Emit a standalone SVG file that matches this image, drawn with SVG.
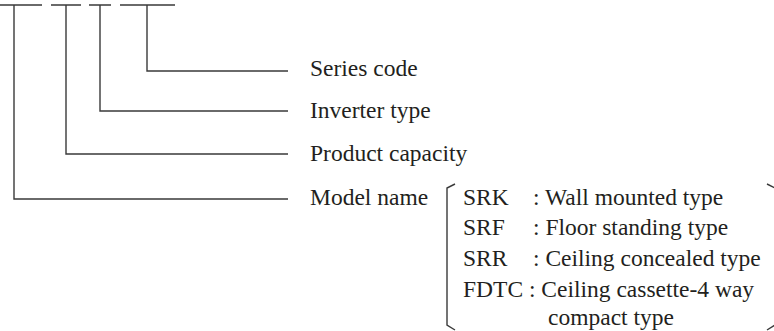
<svg xmlns="http://www.w3.org/2000/svg" width="774" height="331" viewBox="0 0 774 331">
<style>
.ln{fill:none;stroke:#3a3a3a;stroke-width:1.4}
text{font-family:"Liberation Serif","Times New Roman","DejaVu Serif",serif;font-size:23.5px;fill:#231f20}
</style>
<rect width="774" height="331" fill="#fff"/>
<g id="connectors">
<path class="ln" d="M0,5H42M51,5H81M89,5H111M120,5H175"/>
<path class="ln" d="M147,5V71H288"/>
<path class="ln" d="M100,5V111H288"/>
<path class="ln" d="M66,5V154H288"/>
<path class="ln" d="M14,5V199H288"/>
</g>
<g id="series-code"><text x="310" y="76">Series code</text></g>
<g id="inverter-type"><text x="310" y="118">Inverter type</text></g>
<g id="product-capacity"><text x="310" y="161">Product capacity</text></g>
<g id="model-name">
<text x="310" y="205">Model name</text>
<path class="ln" d="M455,184L447,188V325L455,330"/>
<path class="ln" d="M767,184L775,188V325L767,330"/>
<text x="463" y="205">SRK</text><text x="533" y="205">: Wall mounted type</text>
<text x="463" y="235">SRF</text><text x="533" y="235">: Floor standing type</text>
<text x="463" y="266">SRR</text><text x="533" y="266">: Ceiling concealed type</text>
<text x="463" y="297">FDTC : Ceiling cassette-4 way</text>
<text x="548" y="325">compact type</text>
</g>
</svg>
